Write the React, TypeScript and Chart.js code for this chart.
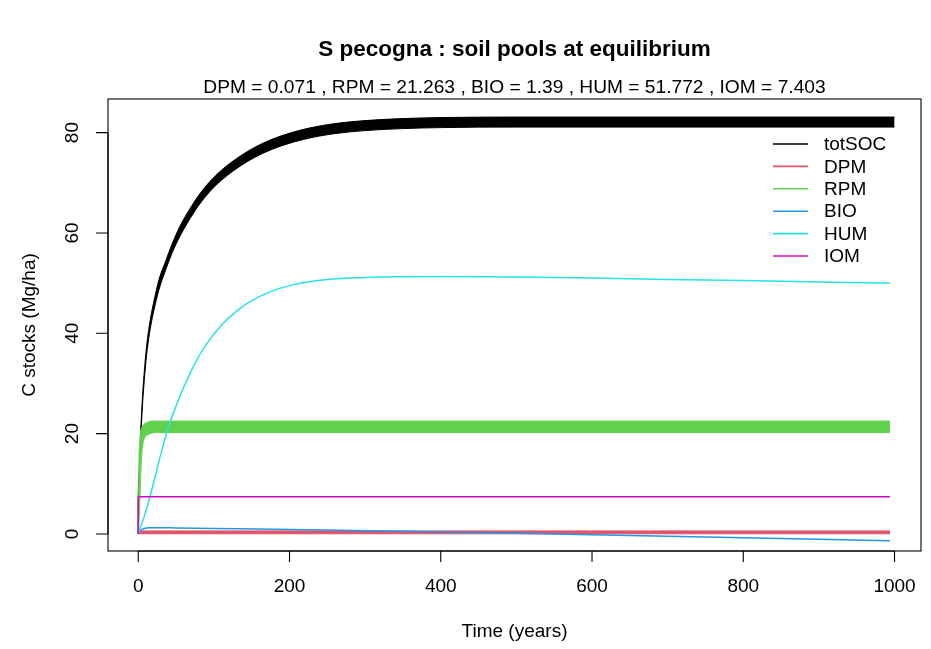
import React, { useEffect, useRef } from "react";
import { Chart, registerables } from "chart.js";
Chart.register(...registerables);

const TITLE = "S pecogna : soil pools at equilibrium";
const SUBTITLE = "DPM = 0.071 , RPM = 21.263 , BIO = 1.39 , HUM = 51.772 , IOM = 7.403";
const X_LABEL = "Time (years)";
const Y_LABEL = "C stocks (Mg/ha)";
const X_TICKS = [0, 200, 400, 600, 800, 1000];
const Y_TICKS = [0, 20, 40, 60, 80];
const LEGEND_LABELS = ["totSOC", "DPM", "RPM", "BIO", "HUM", "IOM"];
const COLORS = ["#000000", "#DF536B", "#61D04F", "#2297E6", "#28E2E5", "#CD0BBC"];

// totSOC (monthly oscillation shown as a band: lower / upper envelope)
const TOT_T = [0, 0.1, 1, 2, 4, 6, 8, 11, 15, 20, 28, 35, 45, 55, 65, 80, 95, 110, 125, 145, 165, 190, 220, 260, 300, 350, 400, 500, 600, 700, 800, 900, 1000];
const TOT_LO = [0, 7.4, 10.6, 14.4, 21.2, 26.6, 30.6, 35.6, 40.1, 44.1, 49.0, 52.1, 56.1, 59.3, 62.0, 65.5, 68.3, 70.5, 72.3, 74.3, 75.9, 77.4, 78.7, 79.8, 80.4, 80.8, 81.0, 81.1, 81.1, 81.1, 81.1, 81.1, 81.1];
const TOT_HI = [0, 7.6, 11.4, 15.6, 22.8, 28.4, 32.4, 37.4, 41.9, 45.9, 51.0, 53.9, 57.9, 61.3, 64.0, 67.5, 70.3, 72.5, 74.3, 76.3, 77.9, 79.4, 80.7, 81.8, 82.4, 82.8, 83.0, 83.1, 83.1, 83.1, 83.1, 83.1, 83.1];

// DPM band
const DPM_T = [0, 0.5, 2, 994];
const DPM_LO = [0, 0.03, 0.03, 0.03];
const DPM_HI = [0, 0.5, 0.6, 0.6];

// RPM band
const RPM_T = [0, 0.5, 1, 2, 3, 5, 8, 13, 18, 24, 40, 994];
const RPM_LO = [0, 1, 2.5, 6, 11, 16.5, 19, 19.8, 20.1, 20.2, 20.2, 20.2];
const RPM_HI = [0, 8, 15, 18.5, 20.3, 21.3, 21.9, 22.3, 22.5, 22.5, 22.5, 22.5];

// BIO
const BIO_T = [0, 3, 8, 15, 25, 50, 100, 200, 300, 400, 500, 600, 700, 800, 900, 994];
const BIO_V = [0, 0.7, 1.1, 1.25, 1.25, 1.2, 1.1, 0.9, 0.65, 0.4, 0.15, -0.15, -0.45, -0.75, -1.05, -1.35];

// HUM
const HUM_T = [0, 10, 20, 30, 40, 50, 60, 75, 90, 110, 130, 150, 175, 200, 250, 300, 400, 500, 600, 700, 800, 900, 994];
const HUM_V = [0, 4.5, 10, 16, 21.3, 25.5, 29.2, 34, 37.8, 41.6, 44.4, 46.5, 48.3, 49.5, 50.7, 51.1, 51.3, 51.2, 51, 50.7, 50.5, 50.2, 50];

// IOM
const IOM_T = [0, 0.1, 994];
const IOM_V = [0, 7.403, 7.403];

const pts = (t: number[], v: number[]) => t.map((x, i) => ({ x, y: v[i] }));

const FONT = "'Liberation Sans', Arial, Helvetica, sans-serif";

const rPlot = {
  id: "rPlot",
  afterDraw(chart: any) {
    const ctx = chart.ctx as CanvasRenderingContext2D;
    const { left, right, top, bottom } = chart.chartArea;
    const xs = chart.scales.x;
    const ys = chart.scales.y;
    ctx.save();
    ctx.strokeStyle = "#000";
    ctx.fillStyle = "#000";
    ctx.lineWidth = 1.1;
    ctx.strokeRect(left, top, right - left, bottom - top);

    // x axis
    const x0 = xs.getPixelForValue(X_TICKS[0]);
    const x1 = xs.getPixelForValue(X_TICKS[X_TICKS.length - 1]);
    ctx.beginPath();
    ctx.moveTo(x0, bottom);
    ctx.lineTo(x1, bottom);
    X_TICKS.forEach((t) => {
      const px = xs.getPixelForValue(t);
      ctx.moveTo(px, bottom);
      ctx.lineTo(px, bottom + 11);
    });
    ctx.stroke();
    ctx.font = `19px ${FONT}`;
    ctx.textAlign = "center";
    ctx.textBaseline = "middle";
    X_TICKS.forEach((t) => {
      ctx.fillText(String(t), xs.getPixelForValue(t), bottom + 36);
    });

    // y axis
    const y0 = ys.getPixelForValue(Y_TICKS[0]);
    const y1 = ys.getPixelForValue(Y_TICKS[Y_TICKS.length - 1]);
    ctx.beginPath();
    ctx.moveTo(left, y0);
    ctx.lineTo(left, y1);
    Y_TICKS.forEach((t) => {
      const py = ys.getPixelForValue(t);
      ctx.moveTo(left, py);
      ctx.lineTo(left - 12, py);
    });
    ctx.stroke();
    Y_TICKS.forEach((t) => {
      const py = ys.getPixelForValue(t);
      ctx.save();
      ctx.translate(left - 35, py);
      ctx.rotate(-Math.PI / 2);
      ctx.fillText(String(t), 0, 0);
      ctx.restore();
    });

    // axis titles
    ctx.fillText(X_LABEL, (left + right) / 2, 632);
    ctx.save();
    ctx.translate(30, (top + bottom) / 2);
    ctx.rotate(-Math.PI / 2);
    ctx.fillText(Y_LABEL, 0, 0);
    ctx.restore();

    // titles
    ctx.font = `bold 22.5px ${FONT}`;
    ctx.fillText(TITLE, (left + right) / 2, 50);
    ctx.font = `19.2px ${FONT}`;
    ctx.fillText(SUBTITLE, (left + right) / 2, 88);

    // legend
    ctx.font = `19px ${FONT}`;
    ctx.textAlign = "left";
    LEGEND_LABELS.forEach((lab, i) => {
      const y = 144 + i * 22.4;
      ctx.strokeStyle = COLORS[i];
      ctx.lineWidth = 1.6;
      ctx.beginPath();
      ctx.moveTo(right - 148, y);
      ctx.lineTo(right - 113, y);
      ctx.stroke();
      ctx.fillStyle = "#000";
      ctx.fillText(lab, right - 97, y + 1);
    });
    ctx.restore();
  },
};

export default function App() {
  const ref = useRef<HTMLCanvasElement | null>(null);
  useEffect(() => {
    if (!ref.current) return;
    const line = (data: any, color: string, order: number, width: number, extra: any = {}) => ({
      data,
      borderColor: color,
      backgroundColor: color,
      borderWidth: width,
      pointRadius: 0,
      cubicInterpolationMode: "monotone",
      fill: false,
      order,
      ...extra,
    });
    const chart = new Chart(ref.current, {
      type: "line",
      data: {
        datasets: [
          line(pts(TOT_T, TOT_LO), COLORS[0], 100, 1),
          line(pts(TOT_T, TOT_HI), COLORS[0], 99, 1, { fill: 0 }),
          line(pts(DPM_T, DPM_LO), COLORS[1], 98, 1),
          line(pts(DPM_T, DPM_HI), COLORS[1], 97, 1, { fill: 2 }),
          line(pts(RPM_T, RPM_LO), COLORS[2], 96, 1),
          line(pts(RPM_T, RPM_HI), COLORS[2], 95, 1, { fill: 4 }),
          line(pts(BIO_T, BIO_V), COLORS[3], 94, 1.5),
          line(pts(HUM_T, HUM_V), COLORS[4], 93, 1.5),
          line(pts(IOM_T, IOM_V), COLORS[5], 92, 1.5),
        ] as any,
      },
      options: {
        animation: false,
        responsive: false,
        events: [],
        layout: { padding: { left: 108, top: 99, right: 10, bottom: 98 } },
        scales: {
          x: { type: "linear", min: -40, max: 1035, display: false },
          y: { type: "linear", min: -3.4, max: 86.7, display: false },
        },
        plugins: { legend: { display: false }, tooltip: { enabled: false }, title: { display: false } },
      },
      plugins: [rPlot],
    } as any);
    return () => chart.destroy();
  }, []);
  return (
    <div style={{ position: "absolute", left: 0, top: 0, width: 931, height: 649, background: "#fff" }}>
      <canvas ref={ref} width={931} height={649} />
    </div>
  );
}
